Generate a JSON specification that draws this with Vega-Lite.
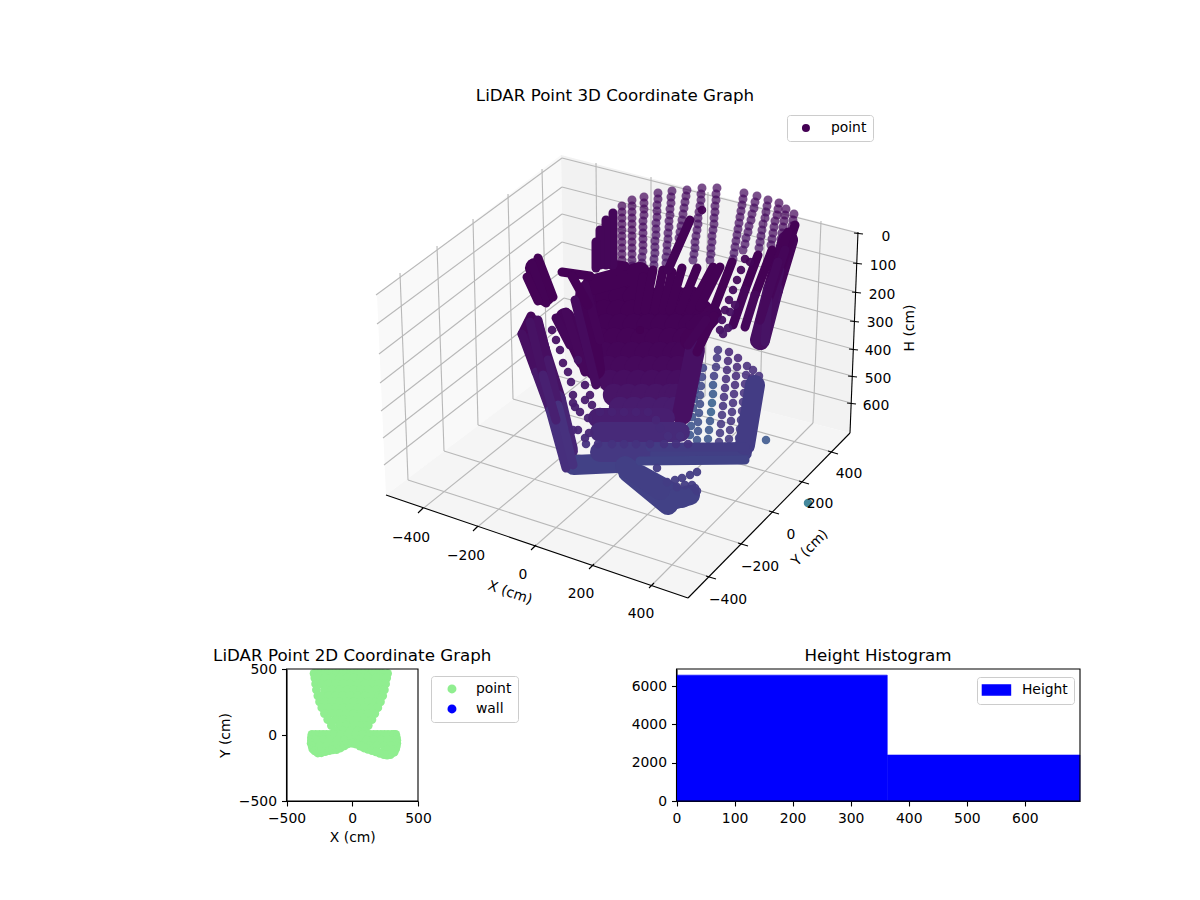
{
  "$schema": "https://vega.github.io/schema/vega-lite/v6.json",
  "width": 1200,
  "height": 900,
  "autosize": "none",
  "padding": 0,
  "background": "white",
  "config": {
    "view": {"stroke": null},
    "font": "DejaVu Sans",
    "text": {"font": "DejaVu Sans", "fontSize": 13.9, "color": "black"},
    "axis": {"grid": false, "labelFont": "DejaVu Sans", "labelFontSize": 13.9, "labelColor": "black", "titleFont": "DejaVu Sans", "titleFontSize": 13.9, "titleFontWeight": "normal", "titleColor": "black", "domainColor": "black", "domainWidth": 1.1, "tickColor": "black", "tickWidth": 1.1, "tickSize": 5, "labelPadding": 5, "labelFlush": false, "labelOverlap": false},
    "legend": {"labelFont": "DejaVu Sans", "labelFontSize": 13.9, "labelColor": "black", "strokeColor": "#cccccc", "fillColor": "white", "cornerRadius": 3, "orient": "none", "title": null}
  },
  "datasets": {
    "grid": [
      {"u":400,"v":273,"u2":408,"v2":480},{"u":437,"v":246,"u2":444,"v2":451},{"u":473,"v":219,"u2":478,"v2":425},{"u":508,"v":194,"u2":513,"v2":399},{"u":542,"v":169,"u2":547,"v2":373},
      {"u":376,"v":295,"u2":562,"v2":158},{"u":377,"v":324,"u2":562,"v2":187},{"u":379,"v":354,"u2":562,"v2":214},{"u":380,"v":383,"u2":562,"v2":242},{"u":381,"v":411,"u2":563,"v2":270},{"u":383,"v":438,"u2":564,"v2":298},{"u":384,"v":465,"u2":564,"v2":325},
      {"u":562,"v":158,"u2":858,"v2":233},{"u":562,"v":187,"u2":857,"v2":263},{"u":562,"v":214,"u2":856,"v2":292},{"u":562,"v":242,"u2":854,"v2":321},{"u":563,"v":270,"u2":853,"v2":349},{"u":564,"v":298,"u2":852,"v2":376},{"u":564,"v":325,"u2":851,"v2":403},
      {"u":596,"v":163,"u2":598,"v2":368},{"u":651,"v":177,"u2":651,"v2":382},{"u":708,"v":192,"u2":705,"v2":396},{"u":765,"v":207,"u2":760,"v2":410},{"u":821,"v":221,"u2":813,"v2":423},
      {"u":420,"v":511,"u2":598,"v2":368},{"u":475,"v":529,"u2":651,"v2":382},{"u":533,"v":548,"u2":705,"v2":396},{"u":591,"v":567,"u2":760,"v2":410},{"u":651,"v":586,"u2":813,"v2":423},
      {"u":408,"v":480,"u2":710,"v2":577},{"u":444,"v":451,"u2":742,"v2":544},{"u":478,"v":425,"u2":773,"v2":512},{"u":513,"v":399,"u2":803,"v2":482},{"u":547,"v":373,"u2":832,"v2":452}
    ],
    "frame3d": [
      {"u":386,"v":495,"u2":688,"v2":598},{"u":688,"v":598,"u2":850,"v2":433},{"u":850,"v":433,"u2":858,"v2":232},
      {"u":423,"v":508,"u2":418,"v2":513},{"u":478,"v":526,"u2":473,"v2":531},{"u":536,"v":545,"u2":531,"v2":550},{"u":594,"v":564,"u2":589,"v2":569},{"u":654,"v":583,"u2":649,"v2":588},
      {"u":706,"v":576,"u2":716,"v2":579},{"u":738,"v":543,"u2":748,"v2":546},{"u":769,"v":511,"u2":779,"v2":514},{"u":799,"v":481,"u2":809,"v2":484},{"u":828,"v":451,"u2":838,"v2":454},
      {"u":854,"v":233,"u2":863,"v2":234},{"u":853,"v":263,"u2":862,"v2":264},{"u":852,"v":292,"u2":861,"v2":293},{"u":850,"v":321,"u2":859,"v2":322},{"u":849,"v":349,"u2":858,"v2":350},{"u":848,"v":376,"u2":857,"v2":377},{"u":847,"v":403,"u2":856,"v2":404}
    ],
    "ticks3d": [
      {"u":411,"v":538,"label":"−400"},{"u":466,"v":556,"label":"−200"},{"u":523,"v":575,"label":"0"},{"u":581,"v":594,"label":"200"},{"u":641,"v":614,"label":"400"},
      {"u":728,"v":600,"label":"−400"},{"u":760,"v":567,"label":"−200"},{"u":791,"v":535,"label":"0"},{"u":820,"v":504,"label":"200"},{"u":849,"v":474,"label":"400"},
      {"u":886,"v":237,"label":"0"},{"u":883,"v":266,"label":"100"},{"u":882,"v":295,"label":"200"},{"u":880,"v":323,"label":"300"},{"u":878,"v":351,"label":"400"},{"u":878,"v":379,"label":"500"},{"u":876,"v":406,"label":"600"}
    ],
    "far": [
      {"u":717,"v":188,"h":80},{"u":716,"v":194,"h":85},{"u":716,"v":200,"h":90},{"u":715,"v":206,"h":95},{"u":715,"v":212,"h":100},{"u":714,"v":218,"h":105},{"u":714,"v":224,"h":110},{"u":713,"v":230,"h":115},{"u":712,"v":236,"h":120},{"u":712,"v":242,"h":130},{"u":711,"v":248,"h":140},{"u":711,"v":254,"h":150},{"u":710,"v":260,"h":160},
      {"u":702,"v":188,"h":80},{"u":701,"v":194,"h":85},{"u":701,"v":200,"h":90},{"u":700,"v":206,"h":95},{"u":699,"v":212,"h":100},{"u":698,"v":218,"h":105},{"u":698,"v":224,"h":110},{"u":697,"v":230,"h":115},{"u":696,"v":236,"h":120},{"u":695,"v":242,"h":130},{"u":695,"v":248,"h":140},{"u":694,"v":254,"h":150},{"u":693,"v":260,"h":160},
      {"u":687,"v":190,"h":80},{"u":686,"v":196,"h":85},{"u":685,"v":202,"h":90},{"u":684,"v":208,"h":95},{"u":683,"v":214,"h":100},{"u":682,"v":220,"h":105},{"u":681,"v":226,"h":110},{"u":680,"v":232,"h":115},{"u":679,"v":238,"h":120},
      {"u":672,"v":191,"h":80},{"u":671,"v":197,"h":85},{"u":671,"v":203,"h":90},{"u":670,"v":209,"h":95},{"u":670,"v":215,"h":100},{"u":669,"v":221,"h":105},{"u":669,"v":227,"h":110},{"u":668,"v":233,"h":115},{"u":668,"v":239,"h":120},{"u":667,"v":245,"h":130},{"u":667,"v":251,"h":140},{"u":666,"v":257,"h":150},{"u":666,"v":263,"h":160},
      {"u":658,"v":193,"h":80},{"u":658,"v":199,"h":85},{"u":657,"v":205,"h":90},{"u":657,"v":211,"h":95},{"u":657,"v":217,"h":100},{"u":656,"v":223,"h":105},{"u":656,"v":229,"h":110},{"u":656,"v":235,"h":115},{"u":655,"v":241,"h":120},{"u":655,"v":247,"h":130},{"u":655,"v":253,"h":140},{"u":654,"v":259,"h":150},{"u":654,"v":265,"h":160},
      {"u":644,"v":197,"h":60},{"u":644,"v":203,"h":65},{"u":644,"v":209,"h":70},{"u":644,"v":215,"h":75},{"u":643,"v":221,"h":80},{"u":643,"v":227,"h":85},{"u":643,"v":233,"h":90},{"u":643,"v":239,"h":95},{"u":643,"v":245,"h":100},{"u":643,"v":251,"h":110},{"u":642,"v":257,"h":120},{"u":642,"v":263,"h":130},{"u":642,"v":269,"h":140},{"u":642,"v":275,"h":150},
      {"u":632,"v":200,"h":50},{"u":632,"v":206,"h":50},{"u":632,"v":212,"h":55},{"u":632,"v":218,"h":55},{"u":632,"v":224,"h":60},{"u":632,"v":230,"h":60},{"u":632,"v":236,"h":65},{"u":632,"v":242,"h":70},{"u":632,"v":248,"h":75},{"u":632,"v":254,"h":80},{"u":632,"v":260,"h":90},{"u":632,"v":266,"h":100},{"u":632,"v":272,"h":110},
      {"u":622,"v":206,"h":40},{"u":622,"v":212,"h":40},{"u":622,"v":218,"h":45},{"u":622,"v":224,"h":45},{"u":622,"v":230,"h":50},{"u":622,"v":236,"h":50},{"u":622,"v":242,"h":55},{"u":622,"v":248,"h":60},{"u":622,"v":254,"h":65},{"u":622,"v":260,"h":70},{"u":622,"v":266,"h":80},
      {"u":744,"v":193,"h":80},{"u":743,"v":199,"h":85},{"u":742,"v":205,"h":90},{"u":741,"v":211,"h":95},{"u":740,"v":217,"h":100},{"u":739,"v":223,"h":105},{"u":738,"v":229,"h":110},{"u":737,"v":235,"h":115},{"u":736,"v":241,"h":120},{"u":735,"v":247,"h":130},{"u":734,"v":253,"h":140},{"u":733,"v":259,"h":150},
      {"u":757,"v":196,"h":80},{"u":755,"v":202,"h":85},{"u":754,"v":208,"h":90},{"u":752,"v":214,"h":95},{"u":751,"v":220,"h":100},{"u":749,"v":226,"h":105},{"u":748,"v":232,"h":110},{"u":746,"v":238,"h":115},{"u":745,"v":244,"h":120},{"u":743,"v":250,"h":130},
      {"u":768,"v":200,"h":80},{"u":767,"v":206,"h":85},{"u":766,"v":212,"h":90},{"u":765,"v":218,"h":95},{"u":763,"v":224,"h":100},{"u":762,"v":230,"h":105},{"u":761,"v":236,"h":110},{"u":760,"v":242,"h":115},{"u":759,"v":248,"h":120},
      {"u":779,"v":203,"h":60},{"u":778,"v":209,"h":65},{"u":777,"v":215,"h":70},{"u":775,"v":221,"h":75},{"u":774,"v":227,"h":80},{"u":773,"v":233,"h":85},{"u":772,"v":239,"h":90},{"u":771,"v":245,"h":95},
      {"u":786,"v":209,"h":60},{"u":785,"v":215,"h":65},{"u":784,"v":221,"h":70},{"u":783,"v":227,"h":75},{"u":782,"v":233,"h":80},{"u":781,"v":239,"h":85},
      {"u":794,"v":214,"h":60},{"u":793,"v":220,"h":65},{"u":792,"v":226,"h":70},{"u":790,"v":232,"h":75}
    ],
    "lower": [
      {"u":697,"v":372,"h":700},{"u":696,"v":381,"h":720},{"u":695,"v":390,"h":740},{"u":694,"v":399,"h":760},{"u":693,"v":408,"h":780},{"u":692,"v":417,"h":800},{"u":691,"v":426,"h":820},{"u":690,"v":435,"h":840},
      {"u":703,"v":368,"h":650},{"u":702,"v":377,"h":670},{"u":701,"v":386,"h":690},{"u":700,"v":395,"h":710},{"u":700,"v":404,"h":730},{"u":699,"v":413,"h":750},{"u":698,"v":422,"h":770},{"u":698,"v":431,"h":790},{"u":697,"v":440,"h":810},
      {"u":718,"v":350,"h":500},{"u":717,"v":358,"h":520},{"u":716,"v":367,"h":540},{"u":714,"v":376,"h":600},{"u":713,"v":385,"h":850},{"u":713,"v":394,"h":900},{"u":712,"v":403,"h":950},{"u":711,"v":412,"h":950},{"u":710,"v":421,"h":850},{"u":709,"v":430,"h":850},{"u":708,"v":439,"h":850},
      {"u":729,"v":352,"h":350},{"u":728,"v":361,"h":370},{"u":727,"v":370,"h":390},{"u":726,"v":379,"h":410},{"u":725,"v":388,"h":430},{"u":724,"v":397,"h":450},{"u":723,"v":406,"h":470},{"u":722,"v":415,"h":490},{"u":721,"v":424,"h":510},{"u":720,"v":433,"h":530},{"u":719,"v":442,"h":550},
      {"u":738,"v":358,"h":350},{"u":737,"v":367,"h":370},{"u":736,"v":376,"h":390},{"u":735,"v":385,"h":410},{"u":734,"v":394,"h":430},{"u":733,"v":403,"h":450},{"u":732,"v":412,"h":470},{"u":731,"v":421,"h":490},{"u":730,"v":430,"h":510},{"u":729,"v":439,"h":530},
      {"u":747,"v":366,"h":400},{"u":746,"v":375,"h":420},{"u":745,"v":384,"h":440},{"u":744,"v":393,"h":460},{"u":743,"v":402,"h":480},{"u":742,"v":411,"h":500},{"u":741,"v":420,"h":520},{"u":740,"v":429,"h":540},{"u":739,"v":438,"h":560},{"u":738,"v":447,"h":580},
      {"u":753,"v":370,"h":400},{"u":752,"v":378,"h":420},{"u":751,"v":386,"h":440},{"u":750,"v":394,"h":460},{"u":749,"v":402,"h":480},{"u":748,"v":410,"h":500},{"u":747,"v":418,"h":520},{"u":746,"v":426,"h":540},{"u":745,"v":434,"h":560},{"u":744,"v":442,"h":580},
      {"u":759,"v":376,"h":450},{"u":758,"v":384,"h":470},{"u":757,"v":392,"h":490},{"u":756,"v":400,"h":510},{"u":755,"v":408,"h":530},{"u":754,"v":416,"h":550},{"u":753,"v":424,"h":570},{"u":752,"v":432,"h":590},{"u":751,"v":440,"h":610},{"u":750,"v":448,"h":630},
      {"u":766,"v":440,"h":850},{"u":808,"v":503,"h":1300}
    ],
    "mid": [
      {"u":600,"v":412,"h":300},{"u":612,"v":412,"h":300},{"u":624,"v":412,"h":300},{"u":636,"v":412,"h":300},{"u":648,"v":412,"h":300},
      {"u":656,"v":420,"h":340},{"u":660,"v":428,"h":380},{"u":668,"v":436,"h":420},{"u":680,"v":436,"h":420},
      {"u":586,"v":444,"h":460},{"u":598,"v":444,"h":460},{"u":612,"v":444,"h":460},{"u":624,"v":444,"h":460},{"u":636,"v":444,"h":460},{"u":650,"v":444,"h":460},{"u":664,"v":444,"h":460},{"u":676,"v":444,"h":460},{"u":688,"v":444,"h":460},
      {"u":552,"v":330,"h":130},{"u":556,"v":340,"h":140},{"u":560,"v":350,"h":150},{"u":563,"v":363,"h":170},{"u":568,"v":372,"h":190},{"u":571,"v":382,"h":210},{"u":573,"v":395,"h":230},{"u":575,"v":407,"h":250},{"u":580,"v":412,"h":270},{"u":588,"v":418,"h":290},{"u":578,"v":430,"h":320},{"u":589,"v":433,"h":340},{"u":573,"v":430,"h":340},{"u":585,"v":438,"h":380},{"u":573,"v":403,"h":240},{"u":585,"v":400,"h":240},{"u":590,"v":395,"h":220},{"u":592,"v":405,"h":240},{"u":585,"v":385,"h":200},{"u":578,"v":360,"h":160},
      {"u":657,"v":468,"h":560},{"u":667,"v":482,"h":560},{"u":675,"v":480,"h":560},{"u":682,"v":478,"h":560},{"u":690,"v":475,"h":560},{"u":697,"v":472,"h":560},{"u":677,"v":487,"h":560},{"u":685,"v":485,"h":560},{"u":692,"v":485,"h":560},{"u":695,"v":488,"h":560},{"u":697,"v":491,"h":560},
      {"u":702,"v":210,"h":10},{"u":745,"v":259,"h":30},{"u":750,"v":262,"h":30},{"u":741,"v":270,"h":60},{"u":737,"v":280,"h":70},{"u":733,"v":290,"h":80},{"u":729,"v":300,"h":90},{"u":725,"v":310,"h":100},{"u":722,"v":320,"h":120},{"u":730,"v":312,"h":120},{"u":735,"v":305,"h":110},{"u":720,"v":330,"h":140},{"u":728,"v":328,"h":150},{"u":723,"v":334,"h":180}
    ],
    "core": [
      {"u":600,"v":285,"h":5},{"u":614,"v":285,"h":5},{"u":628,"v":285,"h":5},{"u":642,"v":285,"h":5},
      {"u":592,"v":297,"h":5},{"u":606,"v":297,"h":5},{"u":620,"v":297,"h":5},{"u":634,"v":297,"h":5},{"u":648,"v":297,"h":5},{"u":662,"v":297,"h":5},{"u":676,"v":297,"h":5},{"u":690,"v":297,"h":5},
      {"u":590,"v":311,"h":10},{"u":604,"v":311,"h":10},{"u":618,"v":311,"h":10},{"u":632,"v":311,"h":10},{"u":646,"v":311,"h":10},{"u":660,"v":311,"h":10},{"u":674,"v":311,"h":10},{"u":688,"v":311,"h":10},{"u":702,"v":311,"h":10},
      {"u":592,"v":325,"h":15},{"u":606,"v":325,"h":15},{"u":620,"v":325,"h":15},{"u":634,"v":325,"h":15},{"u":648,"v":325,"h":15},{"u":662,"v":325,"h":15},{"u":676,"v":325,"h":15},{"u":690,"v":325,"h":15},{"u":700,"v":325,"h":15},
      {"u":600,"v":339,"h":25},{"u":614,"v":339,"h":25},{"u":628,"v":339,"h":25},{"u":642,"v":339,"h":25},{"u":656,"v":339,"h":25},{"u":670,"v":339,"h":25},{"u":684,"v":339,"h":25},
      {"u":604,"v":353,"h":40},{"u":618,"v":353,"h":40},{"u":632,"v":353,"h":40},{"u":646,"v":353,"h":40},{"u":660,"v":353,"h":40},{"u":674,"v":353,"h":40},{"u":682,"v":353,"h":40},
      {"u":608,"v":367,"h":70},{"u":622,"v":367,"h":70},{"u":636,"v":367,"h":70},{"u":650,"v":367,"h":70},{"u":664,"v":367,"h":70},{"u":678,"v":367,"h":70},
      {"u":610,"v":381,"h":110},{"u":624,"v":381,"h":110},{"u":638,"v":381,"h":110},{"u":652,"v":381,"h":110},{"u":666,"v":381,"h":110},{"u":678,"v":381,"h":110},
      {"u":614,"v":395,"h":170},{"u":628,"v":395,"h":170},{"u":642,"v":395,"h":170},{"u":656,"v":395,"h":170},{"u":670,"v":395,"h":170},{"u":676,"v":395,"h":170},
      {"u":620,"v":408,"h":240},{"u":634,"v":408,"h":240},{"u":648,"v":408,"h":240},{"u":664,"v":408,"h":240},{"u":675,"v":408,"h":240}
    ],
    "wide": [
      {"s":1,"u":535,"v":268,"h":10},{"s":1,"u":545,"v":296,"h":10},
      {"s":2,"u":533,"v":325,"h":90},{"s":2,"u":540,"v":350,"h":90},{"s":3,"u":540,"v":350,"h":150},{"s":3,"u":556,"v":400,"h":150},{"s":4,"u":556,"v":400,"h":330},{"s":4,"u":568,"v":450,"h":330},
      {"s":5,"u":565,"v":318,"h":40},{"s":5,"u":585,"v":360,"h":40},{"s":6,"u":585,"v":295,"h":15},{"s":6,"u":595,"v":370,"h":15},
      {"s":7,"u":592,"v":285,"h":5},{"s":7,"u":640,"v":272,"h":5},
      {"s":8,"u":712,"v":315,"h":20},{"s":8,"u":690,"v":340,"h":20},{"s":9,"u":695,"v":350,"h":130},{"s":9,"u":682,"v":415,"h":130},
      {"s":10,"u":788,"v":240,"h":30},{"s":10,"u":773,"v":290,"h":30},{"s":11,"u":773,"v":290,"h":120},{"s":11,"u":760,"v":340,"h":120},
      {"s":12,"u":598,"v":418,"h":260},{"s":12,"u":665,"v":418,"h":260},{"s":13,"u":600,"v":432,"h":380},{"s":13,"u":680,"v":432,"h":380},
      {"s":14,"u":574,"v":465,"h":620},{"s":14,"u":617,"v":463,"h":620},{"s":15,"u":600,"v":452,"h":520},{"s":15,"u":660,"v":452,"h":520},{"s":16,"u":660,"v":455,"h":600},{"s":16,"u":742,"v":452,"h":600},
      {"s":17,"u":628,"v":472,"h":620},{"s":17,"u":668,"v":505,"h":620},{"s":18,"u":640,"v":475,"h":610},{"s":18,"u":682,"v":498,"h":610},{"s":19,"u":665,"v":502,"h":620},{"s":19,"u":690,"v":495,"h":620},
      {"s":20,"u":755,"v":385,"h":560},{"s":20,"u":745,"v":445,"h":560},
      {"s":21,"u":625,"v":466,"h":600},{"s":21,"u":660,"v":490,"h":600}
    ],
    "strands": [
      {"s":1,"u":538,"v":258,"h":10},{"s":1,"u":553,"v":297,"h":10},{"s":2,"u":532,"v":264,"h":15},{"s":2,"u":546,"v":303,"h":15},{"s":3,"u":527,"v":277,"h":20},{"s":3,"u":538,"v":301,"h":20},
      {"s":4,"u":531,"v":316,"h":60},{"s":4,"u":522,"v":334,"h":60},{"s":5,"u":522,"v":334,"h":120},{"s":5,"u":536,"v":372,"h":120},{"s":6,"u":536,"v":372,"h":220},{"s":6,"u":550,"v":410,"h":220},{"s":7,"u":550,"v":410,"h":430},{"s":7,"u":566,"v":468,"h":430},
      {"s":8,"u":538,"v":320,"h":110},{"s":8,"u":548,"v":360,"h":110},{"s":9,"u":548,"v":360,"h":210},{"s":9,"u":558,"v":405,"h":210},{"s":10,"u":558,"v":405,"h":450},{"s":10,"u":573,"v":465,"h":450},
      {"s":11,"u":530,"v":322,"h":140},{"s":11,"u":543,"v":375,"h":140},{"s":12,"u":543,"v":375,"h":280},{"s":12,"u":556,"v":420,"h":280},
      {"s":13,"u":556,"v":318,"h":50},{"s":13,"u":570,"v":345,"h":50},{"s":14,"u":566,"v":312,"h":60},{"s":14,"u":585,"v":372,"h":60},{"s":15,"u":575,"v":300,"h":80},{"s":15,"u":596,"v":385,"h":80},{"s":16,"u":585,"v":285,"h":30},{"s":16,"u":600,"v":340,"h":30},
      {"s":17,"u":562,"v":272,"h":5},{"s":17,"u":590,"v":276,"h":5},{"s":18,"u":572,"v":276,"h":10},{"s":18,"u":588,"v":305,"h":10},{"s":19,"u":598,"v":262,"h":5},{"s":19,"u":625,"v":266,"h":5},{"s":20,"u":605,"v":259,"h":5},{"s":20,"u":650,"v":300,"h":5},
      {"s":21,"u":613,"v":213,"h":40},{"s":21,"u":613,"v":265,"h":40},{"s":22,"u":606,"v":220,"h":40},{"s":22,"u":606,"v":265,"h":40},{"s":23,"u":600,"v":230,"h":40},{"s":23,"u":600,"v":265,"h":40},{"s":24,"u":596,"v":242,"h":40},{"s":24,"u":596,"v":268,"h":40},
      {"s":25,"u":643,"v":277,"h":5},{"s":25,"u":638,"v":310,"h":5},{"s":26,"u":653,"v":270,"h":5},{"s":26,"u":645,"v":310,"h":5},{"s":27,"u":663,"v":270,"h":5},{"s":27,"u":655,"v":310,"h":5},{"s":28,"u":672,"v":272,"h":5},{"s":28,"u":663,"v":310,"h":5},{"s":29,"u":682,"v":268,"h":5},{"s":29,"u":670,"v":310,"h":5},{"s":30,"u":697,"v":268,"h":5},{"s":30,"u":680,"v":310,"h":5},{"s":31,"u":713,"v":267,"h":5},{"s":31,"u":690,"v":310,"h":5},{"s":32,"u":720,"v":267,"h":5},{"s":32,"u":700,"v":307,"h":5},
      {"s":33,"u":690,"v":220,"h":15},{"s":33,"u":668,"v":270,"h":15},{"s":34,"u":732,"v":262,"h":10},{"s":34,"u":715,"v":306,"h":10},
      {"s":35,"u":758,"v":255,"h":10},{"s":35,"u":745,"v":290,"h":10},{"s":36,"u":745,"v":290,"h":40},{"s":36,"u":733,"v":325,"h":40},{"s":37,"u":772,"v":250,"h":10},{"s":37,"u":755,"v":295,"h":10},{"s":38,"u":755,"v":295,"h":60},{"s":38,"u":745,"v":327,"h":60},
      {"s":39,"u":795,"v":225,"h":10},{"s":39,"u":780,"v":270,"h":10},{"s":40,"u":780,"v":270,"h":100},{"s":40,"u":763,"v":345,"h":100},{"s":41,"u":788,"v":232,"h":20},{"s":41,"u":772,"v":280,"h":20},{"s":42,"u":772,"v":280,"h":120},{"s":42,"u":756,"v":342,"h":120},{"s":43,"u":785,"v":250,"h":40},{"s":43,"u":768,"v":300,"h":40},{"s":44,"u":768,"v":300,"h":150},{"s":44,"u":765,"v":342,"h":150},{"s":45,"u":778,"v":262,"h":70},{"s":45,"u":760,"v":320,"h":70},
      {"s":46,"u":716,"v":312,"h":15},{"s":46,"u":690,"v":325,"h":15},{"s":47,"u":714,"v":316,"h":20},{"s":47,"u":697,"v":352,"h":20},{"s":50,"u":706,"v":320,"h":30},{"s":50,"u":688,"v":345,"h":30},
      {"s":54,"u":650,"v":447,"h":560},{"s":54,"u":745,"v":447,"h":560},{"s":55,"u":640,"v":461,"h":640},{"s":55,"u":745,"v":460,"h":640}
    ],
    "points2d": [
      {"x":-290,"y":466},{"x":-262,"y":466},{"x":-235,"y":466},{"x":-207,"y":466},{"x":-180,"y":466},{"x":-152,"y":466},{"x":-125,"y":466},{"x":-97,"y":466},{"x":-70,"y":466},{"x":-42,"y":466},{"x":-15,"y":466},{"x":13,"y":466},{"x":40,"y":466},{"x":68,"y":466},{"x":95,"y":466},{"x":123,"y":466},{"x":150,"y":466},{"x":178,"y":466},{"x":205,"y":466},{"x":233,"y":466},{"x":268,"y":466},
      {"x":-284,"y":432},{"x":-262,"y":432},{"x":-207,"y":432},{"x":-152,"y":432},{"x":-97,"y":432},{"x":-42,"y":432},{"x":13,"y":432},{"x":68,"y":432},{"x":123,"y":432},{"x":178,"y":432},{"x":233,"y":432},{"x":261,"y":432},
      {"x":-278,"y":387},{"x":-235,"y":387},{"x":-180,"y":387},{"x":-125,"y":387},{"x":-70,"y":387},{"x":-15,"y":387},{"x":40,"y":387},{"x":95,"y":387},{"x":150,"y":387},{"x":205,"y":387},{"x":253,"y":387},
      {"x":-272,"y":342},{"x":-207,"y":342},{"x":-152,"y":342},{"x":-97,"y":342},{"x":-42,"y":342},{"x":13,"y":342},{"x":68,"y":342},{"x":123,"y":342},{"x":178,"y":342},{"x":233,"y":342},{"x":244,"y":342},
      {"x":-261,"y":297},{"x":-235,"y":297},{"x":-180,"y":297},{"x":-125,"y":297},{"x":-70,"y":297},{"x":-15,"y":297},{"x":40,"y":297},{"x":95,"y":297},{"x":150,"y":297},{"x":205,"y":297},{"x":231,"y":297},
      {"x":-248,"y":252},{"x":-207,"y":252},{"x":-152,"y":252},{"x":-97,"y":252},{"x":-42,"y":252},{"x":13,"y":252},{"x":68,"y":252},{"x":123,"y":252},{"x":178,"y":252},{"x":214,"y":252},
      {"x":-231,"y":207},{"x":-180,"y":207},{"x":-125,"y":207},{"x":-70,"y":207},{"x":-15,"y":207},{"x":40,"y":207},{"x":95,"y":207},{"x":150,"y":207},{"x":194,"y":207},
      {"x":-211,"y":162},{"x":-152,"y":162},{"x":-97,"y":162},{"x":-42,"y":162},{"x":13,"y":162},{"x":68,"y":162},{"x":123,"y":162},{"x":171,"y":162},
      {"x":-186,"y":117},{"x":-125,"y":117},{"x":-70,"y":117},{"x":-15,"y":117},{"x":40,"y":117},{"x":95,"y":117},{"x":149,"y":117},
      {"x":-158,"y":72},{"x":-97,"y":72},{"x":-42,"y":72},{"x":13,"y":72},{"x":68,"y":72},{"x":121,"y":72},
      {"x":-130,"y":30},{"x":-70,"y":30},{"x":-15,"y":30},{"x":40,"y":30},{"x":100,"y":30},
      {"x":-306,"y":4},{"x":-278,"y":4},{"x":-250,"y":4},{"x":-222,"y":4},{"x":-195,"y":4},{"x":-167,"y":4},{"x":-140,"y":4},{"x":-85,"y":4},{"x":-30,"y":4},{"x":25,"y":4},{"x":80,"y":4},{"x":135,"y":4},{"x":163,"y":4},{"x":190,"y":4},{"x":218,"y":4},{"x":245,"y":4},{"x":272,"y":4},{"x":300,"y":4},{"x":318,"y":4},{"x":330,"y":4},
      {"x":-310,"y":-18},{"x":335,"y":-18},
      {"x":-310,"y":-40},{"x":-278,"y":-40},{"x":-223,"y":-40},{"x":-168,"y":-40},{"x":-113,"y":-40},{"x":-58,"y":-40},{"x":-3,"y":-40},{"x":52,"y":-40},{"x":107,"y":-40},{"x":162,"y":-40},{"x":217,"y":-40},{"x":272,"y":-40},{"x":327,"y":-40},{"x":338,"y":-40},
      {"x":-312,"y":-62},{"x":338,"y":-62},
      {"x":-305,"y":-84},{"x":-250,"y":-84},{"x":-195,"y":-84},{"x":-140,"y":-84},{"x":-85,"y":-84},{"x":75,"y":-84},{"x":130,"y":-84},{"x":185,"y":-84},{"x":240,"y":-84},{"x":295,"y":-84},{"x":335,"y":-84},
      {"x":-300,"y":-105},{"x":330,"y":-105},{"x":-285,"y":-120},{"x":318,"y":-130},{"x":270,"y":-110},{"x":305,"y":-110},
      {"x":-262,"y":-136},{"x":-235,"y":-134},{"x":-205,"y":-125},{"x":-175,"y":-118},{"x":-150,"y":-112},{"x":-120,"y":-110},{"x":-90,"y":-98},{"x":-60,"y":-82},{"x":-30,"y":-66},{"x":0,"y":-62},{"x":30,"y":-68},{"x":60,"y":-84},{"x":90,"y":-98},{"x":120,"y":-108},{"x":150,"y":-118},{"x":180,"y":-127},{"x":210,"y":-138},{"x":240,"y":-148},{"x":265,"y":-152},{"x":290,"y":-148},{"x":310,"y":-130}
    ]
  },
  "layer": [
    {
      "encoding": {
        "x": {"field": "u", "type": "quantitative", "axis": null, "scale": {"domain": [0, 1200], "range": [0, 1200]}},
        "y": {"field": "v", "type": "quantitative", "axis": null, "scale": {"domain": [0, 900], "range": [0, 900]}}
      },
      "layer": [
        {
          "data": {"values": [{"u":377,"v":295,"v2":295},{"u":386,"v":288,"v2":495},{"u":561,"v":155,"v2":363},{"u":565,"v":360,"v2":360}]},
          "mark": {"type": "area", "color": "#f9f9f9"},
          "encoding": {"y2": {"field": "v2"}}
        },
        {
          "data": {"values": [{"u":561,"v":155,"v2":155},{"u":565,"v":156,"v2":360},{"u":850,"v":230,"v2":433},{"u":858,"v":232,"v2":232}]},
          "mark": {"type": "area", "color": "#f2f2f2"},
          "encoding": {"y2": {"field": "v2"}}
        },
        {
          "data": {"values": [{"u":386,"v":495,"v2":495},{"u":565,"v":360,"v2":556},{"u":688,"v":391,"v2":598},{"u":850,"v":433,"v2":433}]},
          "mark": {"type": "area", "color": "#f5f5f5"},
          "encoding": {"y2": {"field": "v2"}}
        },
        {
          "data": {"name": "grid"},
          "mark": {"type": "rule", "color": "#b8b8b8", "strokeWidth": 1.1},
          "encoding": {"x2": {"field": "u2"}, "y2": {"field": "v2"}}
        },
        {
          "data": {"name": "frame3d"},
          "mark": {"type": "rule", "color": "black", "strokeWidth": 1.1},
          "encoding": {"x2": {"field": "u2"}, "y2": {"field": "v2"}}
        },
        {
          "data": {"name": "far"},
          "mark": {"type": "point", "filled": true, "shape": "circle", "size": 80, "opacity": 0.72},
          "encoding": {"color": {"field": "h", "type": "quantitative", "legend": null, "scale": {"scheme": "viridis", "domain": [0, 3250]}}}
        },
        {
          "data": {"name": "lower"},
          "mark": {"type": "point", "filled": true, "shape": "circle", "size": 72, "opacity": 0.88},
          "encoding": {"color": {"field": "h", "type": "quantitative", "legend": null, "scale": {"scheme": "viridis", "domain": [0, 3250]}}}
        },
        {
          "data": {"name": "core"},
          "mark": {"type": "point", "filled": true, "shape": "circle", "size": 500, "opacity": 1},
          "encoding": {"color": {"field": "h", "type": "quantitative", "legend": null, "scale": {"scheme": "viridis", "domain": [0, 3250]}}}
        },
        {
          "data": {"name": "wide"},
          "mark": {"type": "line", "strokeWidth": 20, "strokeCap": "round"},
          "encoding": {
            "detail": {"field": "s", "type": "nominal"},
            "color": {"field": "h", "type": "quantitative", "legend": null, "scale": {"scheme": "viridis", "domain": [0, 3250]}}
          }
        },
        {
          "data": {"name": "strands"},
          "mark": {"type": "line", "strokeWidth": 9, "strokeCap": "round"},
          "encoding": {
            "detail": {"field": "s", "type": "nominal"},
            "color": {"field": "h", "type": "quantitative", "legend": null, "scale": {"scheme": "viridis", "domain": [0, 3250]}}
          }
        },
        {
          "data": {"name": "mid"},
          "mark": {"type": "point", "filled": true, "shape": "circle", "size": 72, "opacity": 0.95},
          "encoding": {"color": {"field": "h", "type": "quantitative", "legend": null, "scale": {"scheme": "viridis", "domain": [0, 3250]}}}
        },
        {
          "data": {"values": [{"u":640,"v":330,"series":"point"}]},
          "mark": {"type": "point", "filled": true, "shape": "circle", "size": 64, "opacity": 1},
          "encoding": {"fill": {"field": "series", "type": "nominal", "scale": {"domain": ["point"], "range": ["#440154"]}, "legend": {"legendX": 787, "legendY": 115, "padding": 6, "symbolType": "circle", "symbolSize": 64, "symbolOffset": 6, "labelOffset": 18, "symbolOpacity": 1}}}
        },
        {
          "data": {"name": "ticks3d"},
          "mark": {"type": "text", "align": "center", "baseline": "middle"},
          "encoding": {"text": {"field": "label"}}
        },
        {
          "data": {"values": [{"u":615,"v":96,"label":"LiDAR Point 3D Coordinate Graph"}]},
          "mark": {"type": "text", "align": "center", "baseline": "middle", "fontSize": 16.7},
          "encoding": {"text": {"field": "label"}}
        },
        {
          "data": {"values": [{"u":510,"v":593,"label":"X (cm)"}]},
          "mark": {"type": "text", "align": "center", "baseline": "middle", "angle": 19},
          "encoding": {"text": {"field": "label"}}
        },
        {
          "data": {"values": [{"u":810,"v":548,"label":"Y (cm)"}]},
          "mark": {"type": "text", "align": "center", "baseline": "middle", "angle": 315},
          "encoding": {"text": {"field": "label"}}
        },
        {
          "data": {"values": [{"u":910,"v":328,"label":"H (cm)"}]},
          "mark": {"type": "text", "align": "center", "baseline": "middle", "angle": 270},
          "encoding": {"text": {"field": "label"}}
        }
      ]
    },
    {
      "encoding": {
        "x": {"field": "x", "type": "quantitative", "scale": {"domain": [-500, 500], "range": [286.5, 418]}, "axis": {"orient": "bottom", "offset": -99, "values": [-500, 0, 500], "title": "X (cm)", "titlePadding": 6}},
        "y": {"field": "y", "type": "quantitative", "scale": {"domain": [-500, 500], "range": [801, 669]}, "axis": {"orient": "left", "offset": -286.5, "values": [-500, 0, 500], "title": "Y (cm)", "titlePadding": 6}}
      },
      "layer": [
        {
          "data": {"name": "points2d"},
          "transform": [{"calculate": "'point'", "as": "series"}],
          "mark": {"type": "point", "filled": true, "shape": "circle", "size": 80, "opacity": 1},
          "encoding": {"color": {"field": "series", "type": "nominal", "scale": {"domain": ["point", "wall"], "range": ["#90ee90", "#0000ff"]}, "legend": {"legendX": 431, "legendY": 676, "padding": 6, "symbolType": "circle", "symbolSize": 80, "symbolOffset": 8, "labelOffset": 17, "rowPadding": 5, "symbolOpacity": 1}}}
        },
        {
          "data": {"values": [{"x":-500,"x2":500,"y":-500,"y2":500}]},
          "mark": {"type": "rect", "filled": false, "color": "black", "strokeWidth": 1.1},
          "encoding": {"x2": {"field": "x2"}, "y2": {"field": "y2"}}
        },
        {
          "data": {"values": [{"x":0,"y":560,"label":"LiDAR Point 2D Coordinate Graph"}]},
          "mark": {"type": "text", "align": "center", "baseline": "alphabetic", "fontSize": 16.7},
          "encoding": {"text": {"field": "label"}}
        }
      ]
    },
    {
      "encoding": {
        "x": {"field": "start", "type": "quantitative", "scale": {"domain": [0, 695], "range": [676.5, 1080]}, "axis": {"orient": "bottom", "offset": -99, "values": [0, 100, 200, 300, 400, 500, 600], "title": null}},
        "y": {"field": "count", "type": "quantitative", "scale": {"domain": [0, 6890], "range": [801, 669]}, "axis": {"orient": "left", "offset": -676.5, "values": [0, 2000, 4000, 6000], "format": "d", "title": null}}
      },
      "layer": [
        {
          "data": {"values": [{"start":0,"end":363,"count":6570,"base":0,"series":"Height"},{"start":363,"end":695,"count":2400,"base":0,"series":"Height"}]},
          "mark": {"type": "rect", "opacity": 1, "stroke": "#0000ff", "strokeWidth": 0.6},
          "encoding": {
            "x2": {"field": "end"},
            "y2": {"field": "base"},
            "color": {"field": "series", "type": "nominal", "scale": {"domain": ["Height"], "range": ["#0000ff"]}, "legend": {"legendX": 977, "legendY": 677, "padding": 6, "symbolType": "M-2.8,-1H2.8V1H-2.8Z", "symbolSize": 100, "symbolOffset": 6.5, "labelOffset": 18.5, "symbolOpacity": 1}}
          }
        },
        {
          "data": {"values": [{"start":0,"end":695,"count":0,"top":6890}]},
          "mark": {"type": "rect", "filled": false, "color": "black", "strokeWidth": 1.1},
          "encoding": {"x2": {"field": "end"}, "y2": {"field": "top"}}
        },
        {
          "data": {"values": [{"start":347,"count":7303,"label":"Height Histogram"}]},
          "mark": {"type": "text", "align": "center", "baseline": "alphabetic", "fontSize": 16.7},
          "encoding": {"text": {"field": "label"}}
        }
      ]
    }
  ],
  "resolve": {
    "scale": {"x": "independent", "y": "independent", "color": "independent", "fill": "independent"},
    "axis": {"x": "independent", "y": "independent"},
    "legend": {"color": "independent", "fill": "independent"}
  }
}
